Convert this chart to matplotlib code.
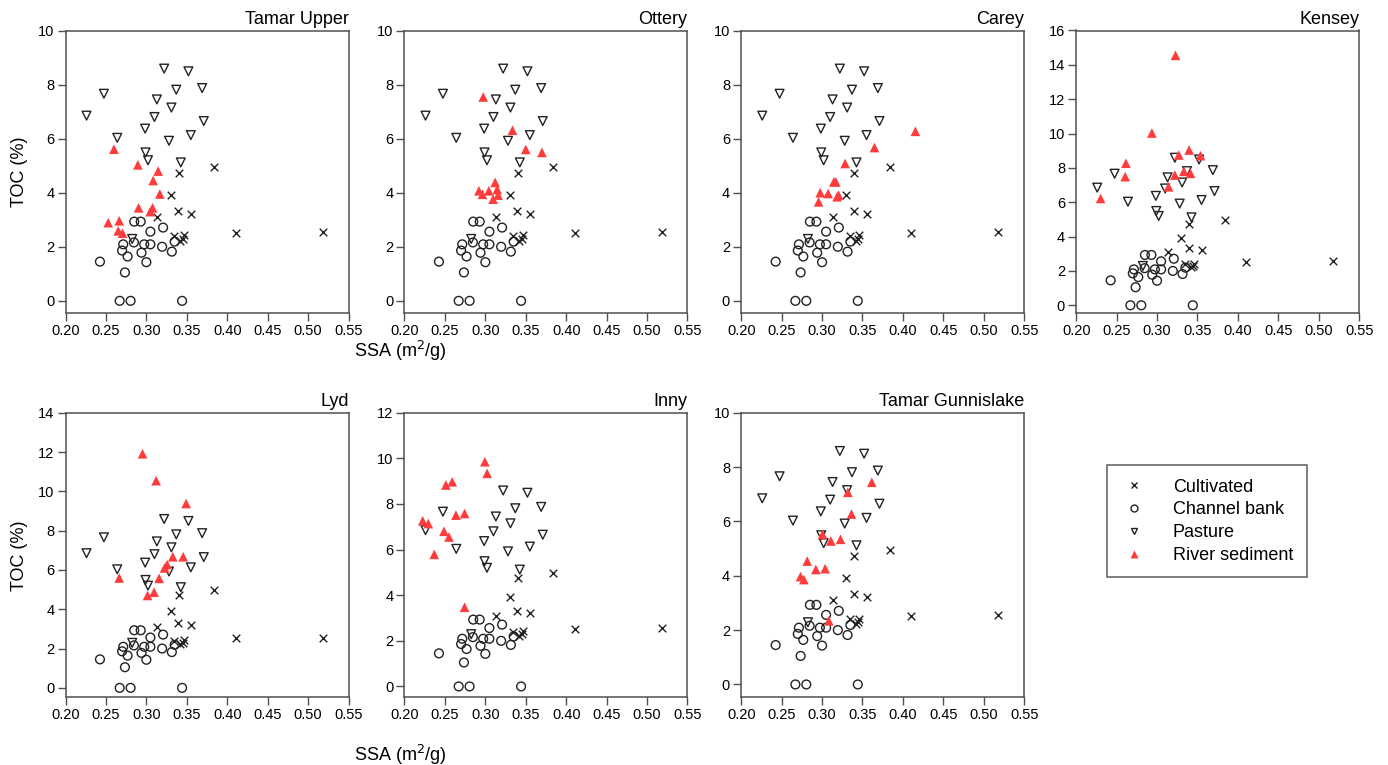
import matplotlib
matplotlib.use("Agg")
import matplotlib.pyplot as plt
from matplotlib.lines import Line2D

plt.rcParams['font.family'] = ['Liberation Sans', 'DejaVu Sans']

# ---------------- shared source data ----------------
cult_ssa = [0.384, 0.340, 0.330, 0.339, 0.355, 0.313, 0.4105, 0.518, 0.334, 0.346, 0.3447, 0.342]
cult_toc = [4.96, 4.74, 3.91, 3.32, 3.21, 3.09, 2.52, 2.56, 2.40, 2.42, 2.29, 2.23]

bank_ssa = [0.285, 0.293, 0.305, 0.3207, 0.2714, 0.2846, 0.2973, 0.305, 0.3195, 0.335,
            0.270, 0.2768, 0.294, 0.3315, 0.300, 0.2426, 0.2735, 0.267, 0.2805, 0.3442]
bank_toc = [2.93, 2.93, 2.56, 2.71, 2.09, 2.16, 2.09, 2.09, 2.00, 2.19,
            1.86, 1.64, 1.78, 1.82, 1.43, 1.45, 1.05, 0.0, 0.0, 0.0]

past_ssa = [0.322, 0.352, 0.2475, 0.337, 0.369, 0.313, 0.331, 0.226, 0.310, 0.371,
            0.2985, 0.355, 0.264, 0.328, 0.299, 0.302, 0.3426, 0.2825]
past_toc = [8.59, 8.49, 7.66, 7.81, 7.87, 7.45, 7.15, 6.85, 6.80, 6.65,
            6.37, 6.13, 6.03, 5.92, 5.49, 5.20, 5.12, 2.29]

# ---------------- river sediment per catchment ----------------
tu_ssa = [0.2599, 0.2895, 0.3146, 0.3084, 0.3167, 0.2904, 0.3077, 0.3047, 0.2528, 0.2664, 0.2652, 0.2706]
tu_toc = [5.61, 5.03, 4.80, 4.45, 3.95, 3.44, 3.44, 3.30, 2.89, 2.96, 2.59, 2.50]

ot_ssa = [0.2973, 0.3336, 0.350, 0.370, 0.3121, 0.292, 0.3043, 0.3146, 0.2965, 0.3158, 0.3096]
ot_toc = [7.54, 6.31, 5.60, 5.49, 4.38, 4.07, 4.07, 4.12, 3.94, 3.91, 3.76]

ca_ssa = [0.4154, 0.3648, 0.3285, 0.3146, 0.317, 0.2977, 0.3075, 0.3186, 0.3204, 0.2957]
ca_toc = [6.27, 5.67, 5.08, 4.40, 4.40, 4.00, 3.97, 3.85, 3.91, 3.66]

ke_ssa = [0.3228, 0.2936, 0.2615, 0.2606, 0.2302, 0.3397, 0.3269, 0.3537, 0.3331, 0.3414, 0.322, 0.3142]
ke_toc = [14.55, 10.03, 8.27, 7.49, 6.22, 9.04, 8.75, 8.71, 7.80, 7.68, 7.58, 6.90]

ly_ssa = [0.2953, 0.3121, 0.3492, 0.3327, 0.3455, 0.3257, 0.3225, 0.3158, 0.2664, 0.3096, 0.3015]
ly_toc = [11.91, 10.54, 9.38, 6.67, 6.67, 6.27, 6.10, 5.57, 5.59, 4.87, 4.70]

in_ssa = [0.2994, 0.3022, 0.2512, 0.259, 0.2636, 0.2743, 0.2225, 0.2294, 0.2488, 0.255, 0.2368, 0.2743]
in_toc = [9.85, 9.34, 8.83, 8.97, 7.51, 7.58, 7.26, 7.14, 6.80, 6.55, 5.79, 3.47]

tg_ssa = [0.3615, 0.3319, 0.3364, 0.3006, 0.3109, 0.3228, 0.2816, 0.2923, 0.3038, 0.2734, 0.2775, 0.3084]
tg_toc = [7.44, 7.07, 6.27, 5.52, 5.28, 5.34, 4.54, 4.23, 4.26, 3.97, 3.86, 2.34]

titles = ["Tamar Upper", "Ottery", "Carey", "Kensey", "Lyd", "Inny", "Tamar Gunnislake"]
river_ssa = [tu_ssa, ot_ssa, ca_ssa, ke_ssa, ly_ssa, in_ssa, tg_ssa]
river_toc = [tu_toc, ot_toc, ca_toc, ke_toc, ly_toc, in_toc, tg_toc]
ytops = [10, 10, 10, 16, 14, 12, 10]
xticks = [0.20, 0.25, 0.30, 0.35, 0.40, 0.45, 0.50, 0.55]
legend_labels = ["Cultivated", "Channel bank", "Pasture", "River sediment"]

# ---------------- figure ----------------
W, H = 1388, 765
fig = plt.figure(figsize=(W / 100, H / 100), dpi=100)

lefts_px = [65.5, 404.5, 741.2, 1076.2, 65.5, 404.5, 741.2]
rows = [(30.5, 313.0)] * 4 + [(412.7, 696.7)] * 3
wpx = 283.0
red = "#FF3B3B"
frame = "#505050"

for i in range(7):
    top, bot = rows[i]
    ax = fig.add_axes([lefts_px[i] / W, 1 - bot / H, wpx / W, (bot - top) / H])
    ax.scatter(cult_ssa, cult_toc, marker='x', s=30, c='#222222', linewidths=1.0, zorder=3)
    ax.scatter(bank_ssa, bank_toc, marker='o', s=40, facecolors='none', edgecolors='#222222',
               linewidths=1.0, zorder=3)
    ax.scatter(past_ssa, past_toc, marker='v', s=40, facecolors='none', edgecolors='#222222',
               linewidths=1.0, zorder=3)
    ax.scatter(river_ssa[i], river_toc[i], marker='^', s=48, c=red, edgecolors='none', zorder=4)
    ax.set_xlim(0.20, 0.55)
    ax.set_ylim(-0.45, ytops[i])
    ax.set_xticks(xticks)
    ax.set_xticklabels([f"{v:.2f}" for v in xticks])
    ax.set_yticks(range(0, ytops[i] + 1, 2))
    ax.tick_params(direction='out', length=6, width=1.0, color=frame, labelsize=10.5, pad=2,
                   top=False, right=False)
    for sp in ax.spines.values():
        sp.set_color(frame)
        sp.set_linewidth(1.1)
    ax.set_title(titles[i], loc='right', fontsize=13, pad=5)

# axis labels
fig.text(20 / W, 1 - 172 / H, "TOC (%)", rotation=90, ha='center', va='center', fontsize=13)
fig.text(20 / W, 1 - 556 / H, "TOC (%)", rotation=90, ha='center', va='center', fontsize=13)
fig.text(400 / W, 1 - 351 / H, "SSA (m$^2$/g)", ha='center', va='center', fontsize=13)
fig.text(400 / W, 1 - 755 / H, "SSA (m$^2$/g)", ha='center', va='center', fontsize=13)

# legend
handles = [
    Line2D([], [], linestyle='none', marker='x', color='#222222', markersize=5, markeredgewidth=1.0),
    Line2D([], [], linestyle='none', marker='o', markerfacecolor='none', markeredgecolor='#222222',
           markersize=5, markeredgewidth=1.0),
    Line2D([], [], linestyle='none', marker='v', markerfacecolor='none', markeredgecolor='#222222',
           markersize=5, markeredgewidth=1.0),
    Line2D([], [], linestyle='none', marker='^', markerfacecolor=red, markeredgecolor='none',
           markersize=6),
]
leg = fig.legend(handles, legend_labels, loc='upper left',
                 bbox_to_anchor=(1107 / W, 1 - 465 / H), fontsize=13, frameon=True,
                 fancybox=False, edgecolor='#333333', borderpad=0.75, labelspacing=0.32,
                 handletextpad=1.4, handlelength=1.5, borderaxespad=0)
leg.get_frame().set_linewidth(1.1)

fig.savefig("out.png", dpi=100)
